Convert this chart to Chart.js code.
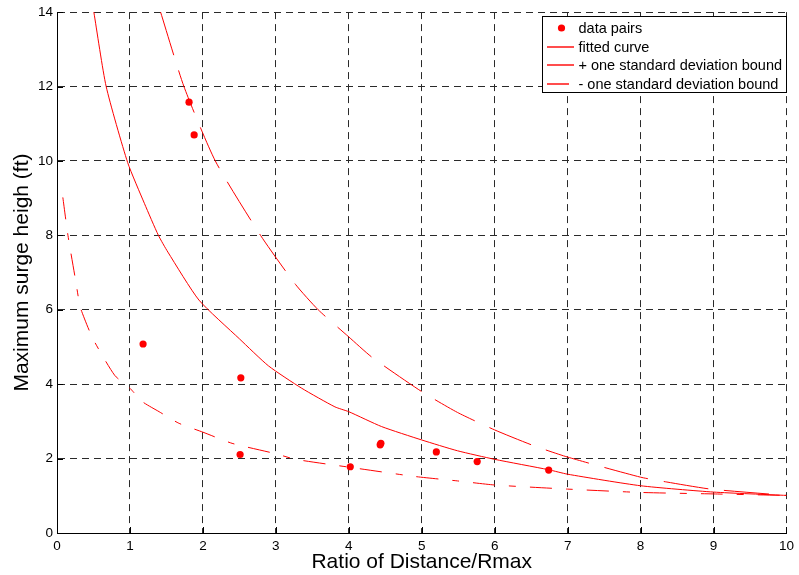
<!DOCTYPE html>
<html><head><meta charset="utf-8">
<style>html,body{margin:0;padding:0;background:#fff;}#wrap{width:799px;height:575px;}</style>
<script src="https://cdn.jsdelivr.net/npm/chart.js@4.4.0/dist/chart.umd.min.js"></script>
</head><body><div id="wrap"><canvas id="c" width="799" height="575"></canvas></div>
<script>
// ---- data ----
const pairX = [1.18, 1.81, 1.88, 2.51, 2.52, 4.02, 4.43, 4.44, 5.20, 5.76, 6.74];
const pairY = [5.08, 11.58, 10.70, 2.11, 4.17, 1.78, 2.37, 2.41, 2.18, 1.92, 1.69];

const fitX = [0.505, 0.674, 0.968, 1.2, 1.39, 1.52, 1.946, 2.5, 2.9, 3.355, 3.81, 4.0, 4.45, 5.0, 5.49, 6.0, 6.74, 7.0, 8.0, 9.0, 10.0];
const fitY = [14.0, 12.0, 9.96, 8.85, 8.0, 7.55, 6.26, 5.22, 4.49, 3.89, 3.39, 3.26, 2.86, 2.50, 2.21, 1.98, 1.70, 1.58, 1.27, 1.10, 1.01];

const upX = [1.42, 1.74, 2.17, 2.79, 3.27, 3.58, 4.0, 4.32, 5.0, 5.49, 6.0, 6.53, 7.0, 8.0, 8.36, 8.96, 10.0];
const upY = [14.0, 12.0, 10.0, 8.0, 6.68, 6.0, 5.27, 4.72, 3.80, 3.24, 2.77, 2.35, 2.04, 1.50, 1.37, 1.18, 1.01];

const lowX = [0.08, 0.15, 0.255, 0.30, 0.33, 0.49, 0.79, 1.0, 1.17, 1.40, 1.67, 2.0, 2.4, 3.0, 3.27, 4.0, 4.9, 5.49, 6.0, 7.0, 8.0, 9.0, 10.0];
const lowY = [9.02, 8.0, 6.79, 6.25, 6.0, 5.23, 4.24, 3.89, 3.53, 3.26, 2.95, 2.71, 2.41, 2.13, 1.98, 1.77, 1.52, 1.40, 1.29, 1.18, 1.09, 1.05, 1.01];

const xTicks = [0, 1, 2, 3, 4, 5, 6, 7, 8, 9, 10];
const yTicks = [0, 2, 4, 6, 8, 10, 12, 14];

const seriesNames = ['data pairs', 'fitted curve', '+ one standard deviation bound', '- one standard deviation bound'];
const xTitle = 'Ratio of Distance/Rmax';
const yTitle = 'Maximum surge heigh (ft)';

const FONT = '"Liberation Sans", Arial, Helvetica, sans-serif';
const RED = '#ff0000';
const pts = (xs, ys) => xs.map((x, i) => ({x: x, y: ys[i]}));

const legendPlugin = {
  id: 'boxLegend',
  afterDraw(chart) {
    const ctx = chart.ctx;
    const bx = 542.5, by = 16.5, bw = 244, bh = 76;
    ctx.save();
    ctx.fillStyle = '#fff';
    ctx.fillRect(bx, by, bw, bh);
    ctx.strokeStyle = '#000';
    ctx.lineWidth = 1;
    ctx.setLineDash([]);
    ctx.strokeRect(bx, by, bw, bh);
    ctx.font = '14.5px ' + FONT;
    ctx.textBaseline = 'middle';
    ctx.textAlign = 'left';
    chart.data.datasets.forEach((ds, i) => {
      const yy = Math.round(28 + i * 18.6);
      if (ds.showLine) {
        ctx.save();
        ctx.strokeStyle = RED;
        ctx.lineWidth = 1.4;
        ctx.setLineDash(ds.borderDash || []);
        ctx.beginPath();
        ctx.moveTo(547, yy);
        ctx.lineTo(574, yy);
        ctx.stroke();
        ctx.restore();
      } else {
        ctx.beginPath();
        ctx.fillStyle = RED;
        ctx.arc(561.5, yy, 3.6, 0, Math.PI * 2);
        ctx.fill();
      }
      ctx.fillStyle = '#000';
      ctx.fillText(ds.label, 578.5, yy + 1);
    });
    ctx.restore();
  }
};

const inwardTicks = {
  id: 'inwardTicks',
  afterDatasetsDraw(chart) {
    const ctx = chart.ctx, a = chart.chartArea;
    const xs = chart.scales.x, ys = chart.scales.y;
    ctx.save();
    ctx.strokeStyle = '#000';
    ctx.lineWidth = 1;
    ctx.setLineDash([]);
    ctx.beginPath();
    xs.ticks.forEach(t => {
      const px = Math.round(xs.getPixelForValue(t.value)) + 0.5;
      ctx.moveTo(px, a.bottom); ctx.lineTo(px, a.bottom - 6);
    });
    ys.ticks.forEach(t => {
      const py = Math.round(ys.getPixelForValue(t.value)) + 0.5;
      ctx.moveTo(a.left, py); ctx.lineTo(a.left + 6, py);
    });
    ctx.stroke();
    ctx.restore();
  }
};

Chart.defaults.font.family = FONT;
Chart.defaults.color = '#000';

new Chart(document.getElementById('c'), {
  type: 'scatter',
  data: {
    datasets: [
      {label: seriesNames[0], data: pts(pairX, pairY), showLine: false, pointRadius: 3.6, pointBackgroundColor: RED, backgroundColor: RED, pointBorderWidth: 0, borderColor: RED, order: 0},
      {label: seriesNames[1], data: pts(fitX, fitY), showLine: true, pointRadius: 0, borderColor: RED, borderWidth: 1, tension: 0.2, order: 1},
      {label: seriesNames[2], data: pts(upX, upY), showLine: true, pointRadius: 0, borderColor: RED, borderWidth: 1, borderDash: [45, 16], tension: 0.2, order: 2},
      {label: seriesNames[3], data: pts(lowX, lowY), showLine: true, pointRadius: 0, borderColor: RED, borderWidth: 1, borderDash: [22, 14, 7, 14], tension: 0.2, order: 3}
    ]
  },
  options: {
    responsive: false,
    animation: false,
    devicePixelRatio: 1,
    layout: {padding: {top: 11, right: 8, left: 0, bottom: 0}},
    plugins: {legend: {display: false}, tooltip: {enabled: false}},
    scales: {
      x: {
        type: 'linear', min: 0, max: 10,
        afterFit(s) { s.height = 42; },
        afterBuildTicks(s) { s.ticks = xTicks.map(v => ({value: v})); },
        grid: {color: '#2a2a2a', lineWidth: 1, drawTicks: false},
        border: {display: true, color: '#000', width: 1, dash: [7, 5]},
        ticks: {padding: 5, color: '#000', font: {size: 13.5}, maxRotation: 0, autoSkip: false},
        title: {display: true, text: xTitle, color: '#000', font: {size: 21}, padding: {top: 0, bottom: 0}}
      },
      y: {
        type: 'linear', min: 0, max: 14,
        afterFit(s) { s.width = 57; },
        afterBuildTicks(s) { s.ticks = yTicks.map(v => ({value: v})); },
        grid: {color: '#2a2a2a', lineWidth: 1, drawTicks: false},
        border: {display: true, color: '#000', width: 1, dash: [7, 5]},
        ticks: {padding: 4, color: '#000', font: {size: 13.5}, autoSkip: false},
        title: {display: true, text: yTitle, color: '#000', font: {size: 21}, padding: {top: 10, bottom: 0}}
      }
    }
  },
  plugins: [inwardTicks, legendPlugin]
});
</script>
</body></html>
